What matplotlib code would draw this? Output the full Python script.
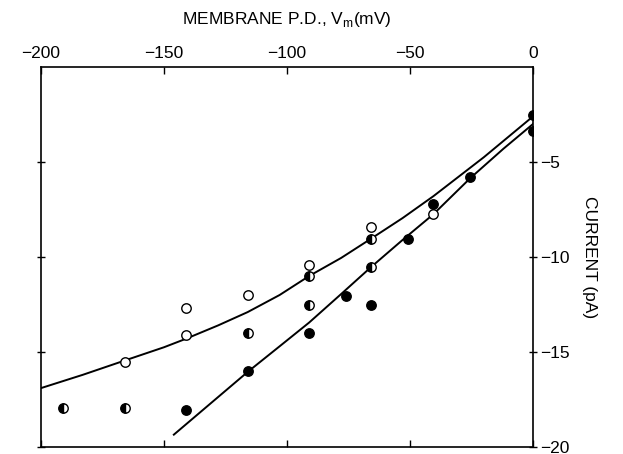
import matplotlib.pyplot as plt
import numpy as np

plt.rcParams['font.family'] = ['Liberation Sans', 'DejaVu Sans']

# open circles
open_v = [-166, -141, -141, -116, -91, -66, -40.5]
open_i = [-15.5, -12.7, -14.1, -12.0, -10.4, -8.4, -7.75]

# half-filled circles
half_v = [-191, -166, -116, -91, -91, -66, -66]
half_i = [-17.95, -17.95, -14.0, -11.0, -12.5, -9.05, -10.5]

# filled circles
full_v = [-141, -116, -91, -76, -66, -51, -40.5, -25.5, 0, 0]
full_i = [-18.05, -16.0, -14.0, -12.05, -12.5, -9.05, -7.2, -5.8, -2.55, -3.35]

# fitted curves
curve_a_v = [-200, -183, -166, -150, -141, -128, -116, -103, -91, -78, -66, -53, -40.5, -20, 0]
curve_a_i = [-16.9, -16.2, -15.45, -14.75, -14.3, -13.6, -12.9, -12.0, -11.0, -10.05, -9.05, -7.95, -6.8, -4.75, -2.6]
curve_b_v = [-146, -131, -116, -103, -91, -78, -66, -53, -40.5, -25.5, -12, 0]
curve_b_i = [-19.35, -17.7, -16.05, -14.7, -13.45, -11.95, -10.55, -9.1, -7.75, -5.85, -4.3, -3.0]

fig = plt.figure(figsize=(6.23, 4.54), dpi=100)
ax = fig.add_axes([41 / 623, 1 - 447 / 454, 492 / 623, 380 / 454])

ax.plot(curve_a_v, curve_a_i, color='black', lw=1.4)
ax.plot(curve_b_v, curve_b_i, color='black', lw=1.4)

ms = 6.8
ax.plot(open_v, open_i, 'o', ms=ms, mfc='white', mec='black', mew=1.0)
ax.plot(half_v, half_i, 'o', ms=ms, fillstyle='left', mfc='black',
        markerfacecoloralt='white', mec='black', mew=1.0)
ax.plot(full_v, full_i, 'o', ms=ms, mfc='black', mec='black', mew=1.0)

ax.set_xlim(-200, 0)
ax.set_ylim(-20, 0)
ax.set_xticks([-200, -150, -100, -50, 0])
ax.set_yticks([-5, -10, -15, -20])
ax.set_xticklabels(['\u2212200', '\u2212150', '\u2212100', '\u221250', '0'])
ax.set_yticklabels(['\u22125', '\u221210', '\u221215', '\u221220'])
ax.xaxis.tick_top()
ax.xaxis.set_label_position('top')
ax.yaxis.tick_right()
ax.yaxis.set_label_position('right')
ax.tick_params(axis='x', direction='in', length=5, width=1, labelsize=12.5,
               pad=4, top=True, bottom=True)
ax.tick_params(axis='y', direction='inout', length=6, width=1, labelsize=12.5,
               pad=2, left=True, right=True)
ax.set_xlabel('MEMBRANE P.D., V$_\\mathregular{m}$(mV)', fontsize=12.5, labelpad=16)
ax.set_ylabel('CURRENT (pA)', fontsize=12.5, rotation=-90, labelpad=20)
for s in ax.spines.values():
    s.set_linewidth(1.2)

fig.savefig('out.png', dpi=100)
